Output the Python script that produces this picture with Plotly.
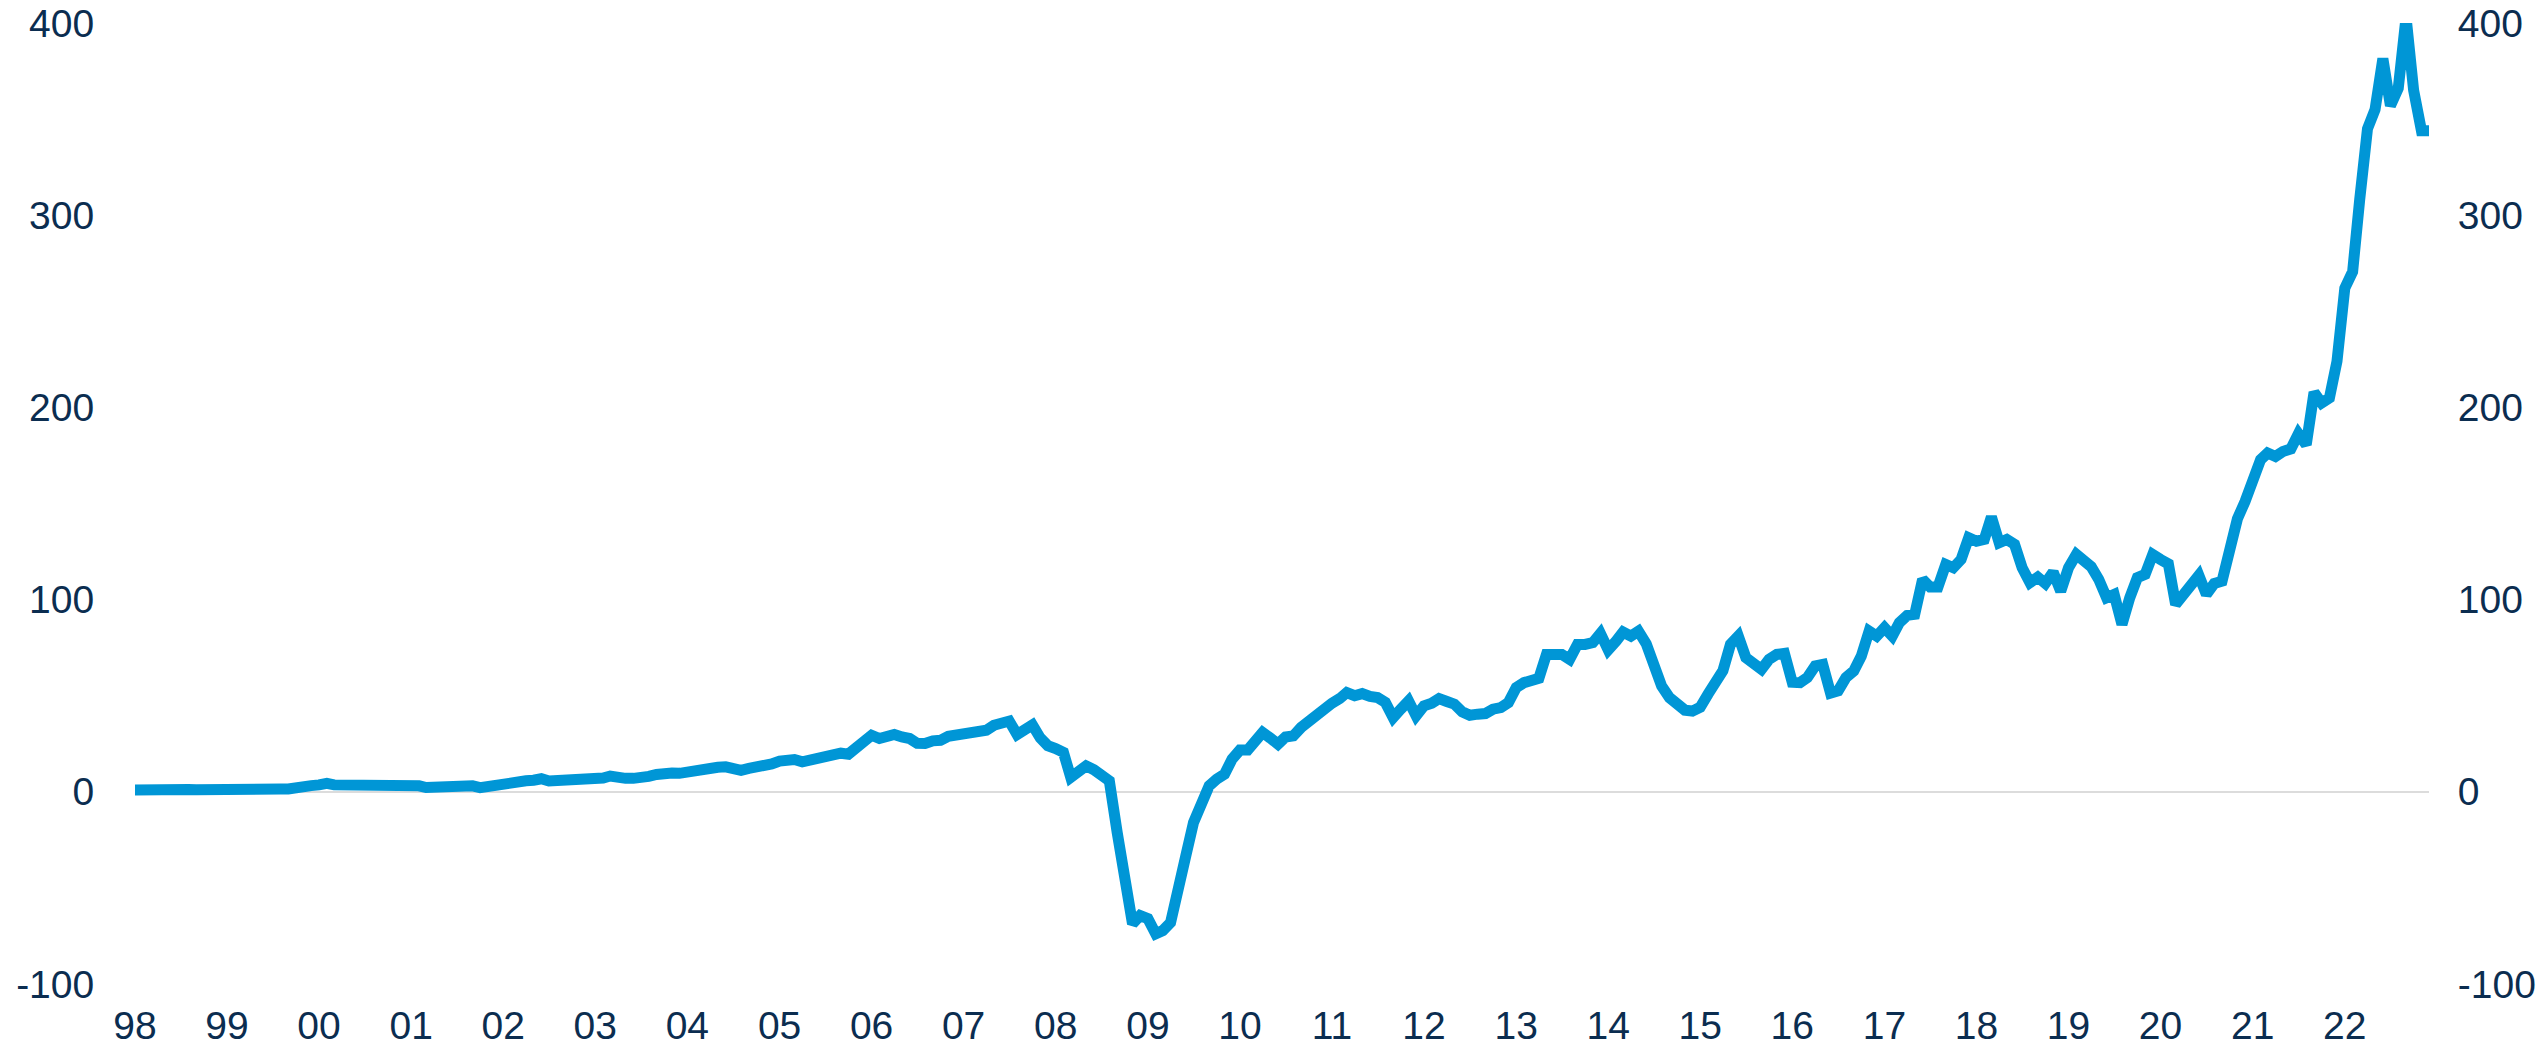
import pandas as pd
import plotly.graph_objects as go

# monthly values, Jan 1998 - Dec 2022
v_1998 = [1.0, 1.2, 1.3, 1.3, 1.3, 1.3, 1.2, 1.2, 1.1, 1.0, 1.0, 0.9]
v_1999 = [0.8, 0.8, 0.9, 1.0, 1.1, 1.2, 1.3, 1.4, 1.5, 1.6, 2.5, 3.2]
v_2000 = [3.6, 4.4, 3.6, 3.5, 3.5, 3.7, 3.9, 4.0, 4.4, 4.2, 3.2, 3.0]
v_2001 = [3.0, 3.1, 2.2, 2.5, 2.8, 2.9, 2.8, 2.9, 3.1, 2.2, 3.0, 3.6]
v_2002 = [4.2, 4.8, 5.3, 5.7, 6.0, 6.8, 5.6, 5.7, 5.8, 5.9, 6.0, 6.2]
v_2003 = [6.8, 7.2, 8.2, 7.2, 7.0, 7.0, 7.1, 8.0, 9.0, 10.0, 9.8, 9.6]
v_2004 = [10.5, 11.2, 12.4, 12.5, 12.8, 13.0, 12.0, 11.2, 12.2, 12.5, 13.0, 14.5]
v_2005 = [16.0, 17.0, 16.8, 15.6, 16.5, 18.0, 19.4, 19.8, 20.1, 19.6, 22.5, 26.0]
v_2006 = [29.4, 27.7, 28.8, 29.8, 28.5, 27.7, 25.2, 25.1, 26.5, 26.8, 28.9, 29.5]
v_2007 = [30.3, 30.5, 30.8, 32.0, 34.6, 36.0, 36.8, 29.8, 32.5, 34.8, 28.0, 24.0]
v_2008 = [22.5, 20.5, 7.5, 10.5, 13.5, 11.5, 9.2, 5.7, -21.0, -49.0, -68.7, -64.4]
v_2009 = [-66.0, -73.9, -72.2, -68.0, -53.0, -33.0, -16.0, -5.0, 3.1, 6.6, 9.2, 17.0]
v_2010 = [21.7, 21.7, 26.0, 30.9, 28.0, 24.8, 28.5, 29.1, 33.5, 36.9, 39.5, 43.0]
v_2011 = [46.1, 48.5, 51.6, 50.0, 51.1, 49.6, 49.0, 46.5, 38.6, 43.0, 47.3, 39.5]
v_2012 = [44.7, 46.1, 48.5, 47.0, 45.6, 41.6, 39.8, 40.4, 40.7, 43.0, 43.8, 46.4]
v_2013 = [54.2, 56.8, 58.0, 59.1, 71.5, 71.0, 71.5, 68.9, 76.7, 76.7, 77.6, 82.4]
v_2014 = [73.8, 78.4, 83.1, 81.0, 83.6, 77.0, 65.0, 55.0, 49.0, 45.0, 42.5, 42.0]
v_2015 = [44.0, 50.8, 55.5, 63.0, 76.7, 81.0, 69.8, 67.0, 63.7, 68.9, 71.5, 72.0]
v_2016 = [57.0, 56.8, 59.4, 65.5, 66.3, 51.3, 52.5, 59.4, 62.9, 70.6, 83.6, 81.0]
v_2017 = [85.4, 81.0, 88.0, 91.8, 92.3, 110.5, 106.5, 106.5, 118.3, 116.6, 120.9, 132.2]
v_2018 = [130.4, 131.3, 143.1, 129.6, 131.3, 128.7, 116.6, 108.8, 111.7, 108.4, 114.3, 104.4]
v_2019 = [116.6, 123.5, 119.5, 117.1, 110.5, 101.0, 102.7, 87.1, 101.0, 111.4, 113.1, 123.5]
v_2020 = [120.9, 118.6, 97.5, 102.7, 105.7, 112.6, 102.7, 108.4, 109.6, 126.0, 142.0, 151.0]
v_2021 = [162.0, 172.8, 176.3, 174.5, 177.1, 178.4, 186.3, 180.6, 207.8, 202.3, 204.9, 224.0]
v_2022 = [262.0, 270.6, 308.0, 345.0, 355.0, 381.5, 357.0, 366.0, 403.0, 365.0, 344.0, 344.0]

yearly = [v_1998, v_1999, v_2000, v_2001, v_2002, v_2003, v_2004, v_2005, v_2006,
          v_2007, v_2008, v_2009, v_2010, v_2011, v_2012, v_2013, v_2014, v_2015,
          v_2016, v_2017, v_2018, v_2019, v_2020, v_2021, v_2022]
values = [v for yr in yearly for v in yr]
months = pd.date_range("1998-01-01", periods=len(values), freq="MS")

y_ticks = [-100, 0, 100, 200, 300, 400]
y_tick_labels = ["-100", "0", "100", "200", "300", "400"]

LINE = "#0096d6"
TXT = "#0b2d50"
FONT = "Arial, Liberation Sans, sans-serif"
FS = 39

fig = go.Figure()
fig.add_trace(go.Scatter(x=months, y=values, mode="lines",
                         line=dict(color=LINE, width=11),
                         hoverinfo="skip", showlegend=False))
fig.add_trace(go.Scatter(x=months, y=values, mode="lines", yaxis="y2",
                         line=dict(color="rgba(0,0,0,0)", width=0),
                         hoverinfo="skip", showlegend=False))

fig.update_layout(
    width=2544, height=1048,
    margin=dict(l=135, r=115, t=23, b=64, autoexpand=False),
    paper_bgcolor="white", plot_bgcolor="white",
    font=dict(family=FONT, size=FS, color=TXT),
    xaxis=dict(type="date", range=["1998-01-01", "2022-12-01"],
               tickformat="%y", dtick="M12", tick0="1998-01-01",
               showgrid=False, zeroline=False, showline=False, automargin=False,
               ticks="outside", ticklen=7, tickcolor="rgba(0,0,0,0)",
               tickfont=dict(size=FS, color=TXT)),
    yaxis=dict(range=[-100, 400], tickvals=y_ticks, ticktext=y_tick_labels,
               showgrid=False, automargin=False,
               zeroline=True, zerolinecolor="#dcdcdc", zerolinewidth=2,
               showline=False, ticks="outside", ticklen=32,
               tickcolor="rgba(0,0,0,0)", tickfont=dict(size=FS, color=TXT)),
    yaxis2=dict(range=[-100, 400], tickvals=y_ticks, ticktext=y_tick_labels,
                overlaying="y", side="right", automargin=False,
                showgrid=False, zeroline=False, showline=False,
                ticks="outside", ticklen=20, tickcolor="rgba(0,0,0,0)",
                tickfont=dict(size=FS, color=TXT)),
)

fig.write_html("out.html", config={"displayModeBar": False},
               post_script="document.body.style.margin='0';document.body.style.overflow='hidden';")
